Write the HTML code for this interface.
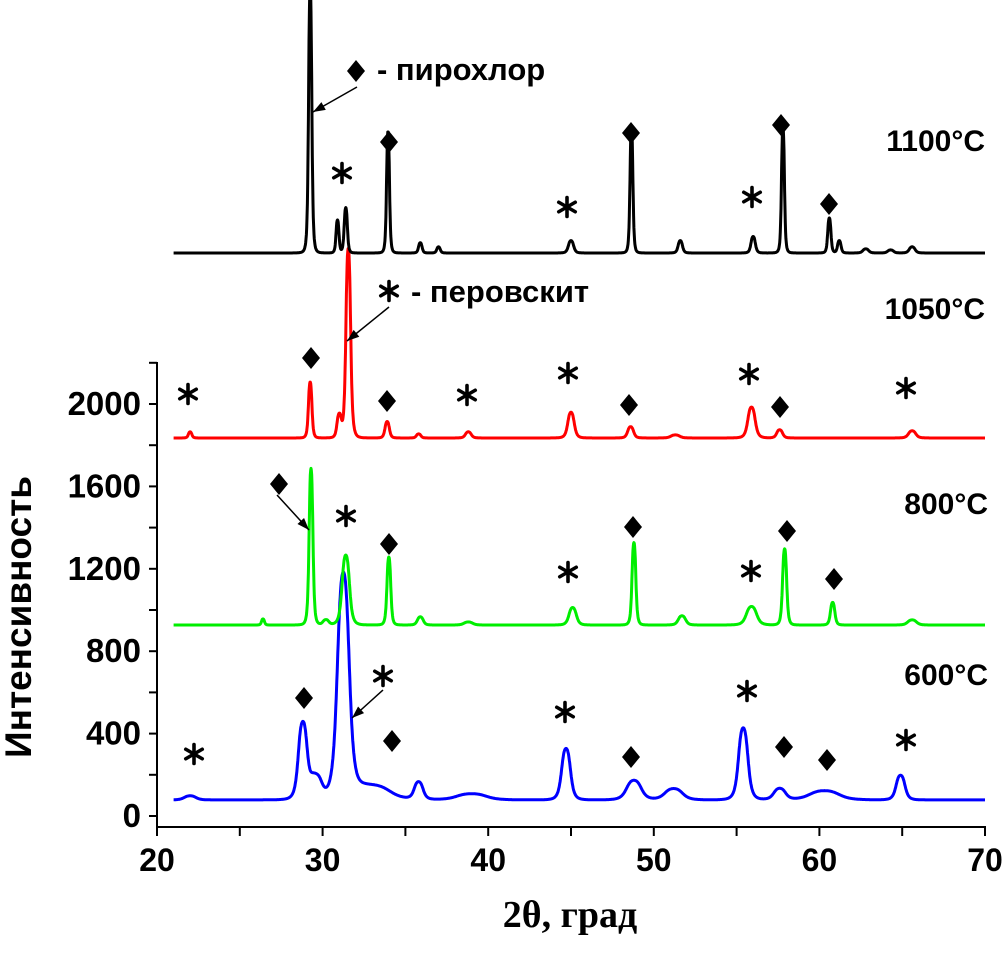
<!DOCTYPE html>
<html><head><meta charset="utf-8"><style>
html,body{margin:0;padding:0;background:#fff;}
svg text{font-family:"Liberation Sans",Arial,sans-serif;font-weight:bold;}
</style></head><body>
<svg id="chart" width="1004" height="968" viewBox="0 0 1004 968" xmlns="http://www.w3.org/2000/svg">
<g id="axes"></g>
<g id="series"></g>
<g id="annot"></g>
<text x="0" y="0" transform="translate(31,617) rotate(-90)" text-anchor="middle" font-size="37">Интенсивность</text>
<text x="570" y="927" text-anchor="middle" font-size="38" style="font-family:'Liberation Serif',serif">2θ, град</text>
<text x="985" y="151" text-anchor="end" font-size="30">1100°C</text>
<text x="985" y="319" text-anchor="end" font-size="30">1050°C</text>
<text x="988" y="514" text-anchor="end" font-size="30">800°C</text>
<text x="988" y="685" text-anchor="end" font-size="30">600°C</text>
<text x="377" y="80" font-size="31">- пирохлор</text>
<text x="411" y="302" font-size="31">- перовскит</text>
</svg>
<script>
const xTicks=[20,30,40,50,60,70];
const yTicks=[0,400,800,1200,1600,2000];
const seriesNames=['600','800','1050','1100'];
const seriesColors=['#0000ff','#00ee00','#ff0000','#000000'];
const baselines=[78,927,1835,2733];
// peaks: [position, height, half-width]
const peaks600=[[22,20,0.4],[28.8,370,0.3],[29.6,110,0.4],[31.25,1090,0.4],[33.0,70,1.2],[35.8,85,0.3],[39,30,1.0],[44.7,250,0.3],[48.8,95,0.5],[51.2,55,0.6],[55.4,350,0.32],[57.6,55,0.4],[60.3,45,1.0],[64.9,120,0.3]];
const peaks800=[[26.4,30,0.1],[29.3,760,0.13],[30.2,25,0.2],[31.4,340,0.25],[34.0,330,0.13],[35.9,40,0.2],[38.8,15,0.3],[45.1,85,0.25],[48.8,400,0.13],[51.7,45,0.25],[55.9,90,0.35],[57.9,370,0.14],[60.8,110,0.15],[65.6,25,0.3]];
const peaks1050=[[22,30,0.12],[29.25,272,0.12],[31.0,110,0.15],[31.55,920,0.16],[33.9,80,0.15],[35.8,20,0.15],[38.8,30,0.2],[45.0,125,0.22],[48.6,55,0.2],[51.3,15,0.3],[55.9,150,0.25],[57.6,40,0.2],[65.6,35,0.25]];
const peaks1100=[[29.25,1300,0.11],[30.9,160,0.1],[31.4,220,0.11],[33.95,590,0.1],[35.9,50,0.12],[37.0,30,0.12],[45.0,60,0.18],[48.65,610,0.1],[51.6,60,0.15],[56.0,80,0.15],[57.8,610,0.1],[60.6,170,0.11],[61.2,60,0.12],[62.8,20,0.2],[64.3,15,0.2],[65.6,30,0.2]];
const allPeaks=[peaks600,peaks800,peaks1050,peaks1100];
const xRange=[21,70];

const X=v=>157+(v-20)*16.56;
const Y=v=>816-v*0.206;
const NS='http://www.w3.org/2000/svg';
function mk(tag,attrs,parent){const e=document.createElementNS(NS,tag);for(const k in attrs)e.setAttribute(k,attrs[k]);parent.appendChild(e);return e;}
const axes=document.getElementById('axes');
let el=mk('line',{x1:157,y1:362,x2:157,y2:828,stroke:'#000','stroke-width':2},axes);


el=mk('line',{x1:156,y1:827,x2:986,y2:827,stroke:'#000','stroke-width':2},axes);


for(let v=0;v<=2200;v+=200){
  const t=mk('line',{x1:149,x2:157,y1:Y(v),y2:Y(v),stroke:'#000','stroke-width':2},axes);
  
  
}
yTicks.forEach(v=>{
  const t=mk('text',{x:141,y:Y(v)+11,'text-anchor':'end','font-size':33},axes);t.textContent=v;
  
  
});
for(let v=20;v<=70;v+=5){
  const t=mk('line',{x1:X(v),x2:X(v),y1:827,y2:836,stroke:'#000','stroke-width':2},axes);
  
  
}
xTicks.forEach(v=>{
  const t=mk('text',{x:X(v),y:871,'text-anchor':'middle','font-size':32},axes);t.textContent=v;
  
  
});
const sg=document.getElementById('series');
allPeaks.forEach((pk,i)=>{
  let d='';
  for(let x=xRange[0];x<=xRange[1]+1e-9;x+=0.02){
    let v=baselines[i];
    pk.forEach(p=>{const u=(x-p[0])/p[2];v+=p[1]/(1+u*u*u*u*0.6+u*u*0.4);});
    d+=(d?'L':'M')+X(x).toFixed(1)+' '+Y(v).toFixed(1);
  }
  const p=mk('path',{d:d,fill:'none',stroke:seriesColors[i],'stroke-width':3,'stroke-linejoin':'round'},sg);
  
  
});
const an=document.getElementById('annot');
const diamonds=[[356,71],[389,142],[631,133],[781,125],[829,204],[311,358],[387,401],[629,405],[780,407],[279,484],[389,544],[633,527],[787,531],[834,579],[304,698],[392,741],[631,757],[784,747],[827,760]];
diamonds.forEach(c=>{
  const p=mk('polygon',{points:`${c[0]},${c[1]-11} ${c[0]+9},${c[1]} ${c[0]},${c[1]+11} ${c[0]-9},${c[1]}`,fill:'#000'},an);
  
  
});
const stars=[[389,291],[342,173],[567,207],[752,197],[188,394],[467,395],[568,373],[749,374],[906,388],[346,516],[568,572],[751,571],[194,754],[383,676],[565,712],[747,691],[906,740]];
stars.forEach(c=>{
  const g=mk('g',{stroke:'#000','stroke-width':3.6,'stroke-linecap':'round'},an);
  
  
  [90,30,150].forEach(a=>{
    const r=a*Math.PI/180,L=9.5;
    mk('line',{x1:c[0]-L*Math.cos(r),y1:c[1]-L*Math.sin(r),x2:c[0]+L*Math.cos(r),y2:c[1]+L*Math.sin(r)},g);
  });
});
const arrows=[[357,87,313,112],[389,307,347,341],[277,495,309,530],[383,690,352,718]];
arrows.forEach(a=>{
  const l=mk('line',{x1:a[0],y1:a[1],x2:a[2],y2:a[3],stroke:'#000','stroke-width':1.5},an);
  
  
  const ang=Math.atan2(a[3]-a[1],a[2]-a[0]),L=13,w=0.35;
  const h=mk('polygon',{points:`${a[2]},${a[3]} ${a[2]-L*Math.cos(ang-w)},${a[3]-L*Math.sin(ang-w)} ${a[2]-L*Math.cos(ang+w)},${a[3]-L*Math.sin(ang+w)}`,fill:'#000'},an);
  
  
});
</script>
</body></html>
